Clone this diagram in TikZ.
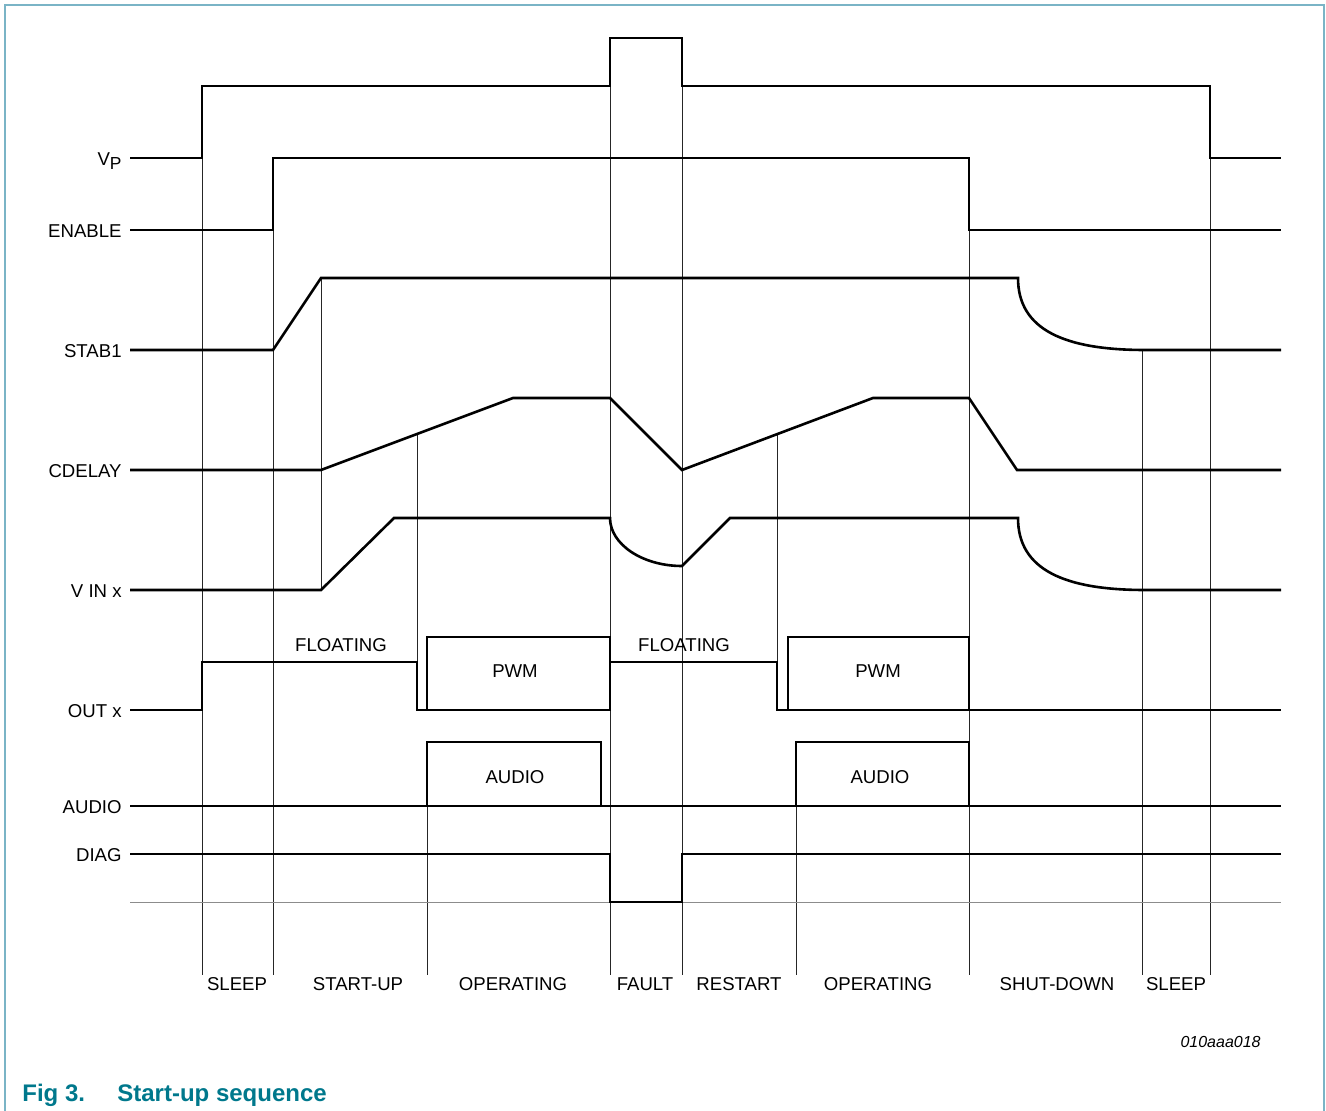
\documentclass[tikz,border=0pt]{standalone}
\usepackage{fontspec}
\setmainfont{Liberation Sans}
\definecolor{capteal}{RGB}{0,120,140}
\definecolor{framecol}{RGB}{122,180,198}

\begin{document}
\begin{tikzpicture}[x=0.5pt, y=-0.5pt,
  sigline/.style={line width=1.3pt, line join=miter},
  tickline/.style={line width=0.5pt, black!85},
  lbl/.style={font=\fontsize{9.3}{10}\selectfont, inner sep=0pt},
  sigtxt/.style={lbl, anchor=base east},
  phasetxt/.style={lbl, anchor=base}]
  \useasboundingbox (0,0) rectangle (1326,1111);
  % frame
  \draw[framecol, line width=0.7pt] (5,1111) -- (5,5) -- (1324,5) -- (1324,1111);

  % signal names
  \foreach \y/\nm/\txt in {158/vp/{V\raisebox{-2pt}{\fontsize{8.7}{9}\selectfont P}},
      230/en/ENABLE, 350/stab/STAB1, 470/cdel/CDELAY, 590/vin/{V IN x},
      710/out/{OUT x}, 806/aud/AUDIO, 854/diag/DIAG}{
    \node[sigtxt] (lab-\nm) at (122,\y+7.5) {\txt};
  }

  % time markers
  \foreach \x/\a/\b in {202/158/975, 273/230/975, 321/278/590, 417/434/662,
      427/806/975, 610/86/975, 682/86/975, 777/434/662, 796/806/975,
      969/230/975, 1142/350/975, 1210/158/975}{
    \draw[tickline] (\x,\a) -- (\x,\b);
  }
  \draw[line width=0.5pt, black!45] (130,902) -- (1281,902);

  % waveforms
  \draw[sigline] (130,158) -- (202,158) -- (202,86) -- (610,86) -- (610,38)
    -- (682,38) -- (682,86) -- (1210,86) -- (1210,158) -- (1281,158);
  \draw[sigline] (130,230) -- (273,230) -- (273,158) -- (969,158) -- (969,230) -- (1281,230);
  \draw[sigline] (130,350) -- (273,350) -- (321,278) -- (1018,278)
    .. controls (1018,330) and (1065,350) .. (1145,350) -- (1281,350);
  \draw[sigline] (130,470) -- (321,470) -- (513,398) -- (610,398) -- (682,470)
    -- (873,398) -- (969,398) -- (1017,470) -- (1281,470);
  \draw[sigline] (130,590) -- (321,590) -- (394,518) -- (610,518)
    .. controls (610,544) and (642,566) .. (682,566) -- (730,518) -- (1018,518)
    .. controls (1018,570) and (1065,590) .. (1145,590) -- (1281,590);
  \draw[sigline] (130,710) -- (202,710) -- (202,662) -- (417,662) -- (417,710) -- (427,710);
  \draw[sigline] (610,662) -- (777,662) -- (777,710) -- (788,710);
  \draw[sigline] (969,710) -- (1281,710);
  \draw[sigline] (427,637) rectangle (610,710);
  \draw[sigline] (788,637) rectangle (969,710);
  \draw[sigline] (130,806) -- (1281,806);
  \draw[sigline] (427,742) rectangle (601,806);
  \draw[sigline] (796,742) rectangle (969,806);
  \draw[sigline] (130,854) -- (610,854) -- (610,902) -- (682,902) -- (682,854) -- (1281,854);

  % state texts
  \node[phasetxt] (float-a) at (341,651) {FLOATING};
  \node[phasetxt] (float-b) at (684,651) {FLOATING};
  \node[phasetxt] (pwm-a) at (515,677) {PWM};
  \node[phasetxt] (pwm-b) at (878,677) {PWM};
  \node[phasetxt] (audio-a) at (515,783) {AUDIO};
  \node[phasetxt] (audio-b) at (880,783) {AUDIO};

  % phases
  \foreach \x/\nm/\txt in {237/ph1/SLEEP, 358/ph2/START-UP, 513/ph3/OPERATING,
      645/ph4/FAULT, 739/ph5/RESTART, 878/ph6/OPERATING, 1057/ph7/SHUT-DOWN, 1176/ph8/SLEEP}{
    \node[phasetxt] (\nm) at (\x,990) {\txt};
  }

  \node[anchor=base east, inner sep=0pt, font=\fontsize{8}{9}\selectfont\itshape] (figcode) at (1261,1047) {010aaa018};
  \node[anchor=base west, inner sep=0pt, text=capteal, font=\fontsize{12}{14}\selectfont\bfseries] (fignum) at (22,1101) {Fig 3.};
  \node[anchor=base west, inner sep=0pt, text=capteal, font=\fontsize{12}{14}\selectfont\bfseries] (figtitle) at (117,1101) {Start-up sequence};
\end{tikzpicture}
\end{document}
